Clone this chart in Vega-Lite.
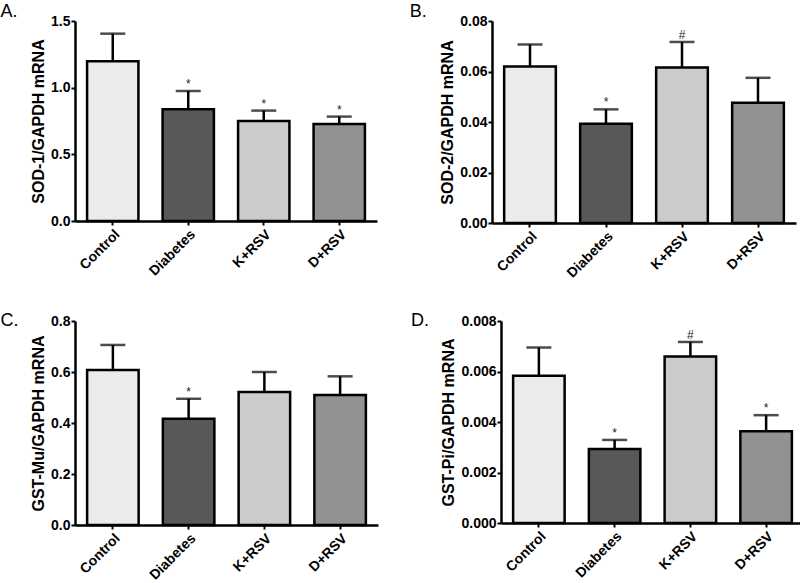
{
  "$schema": "https://vega.github.io/schema/vega-lite/v6.json",
  "padding": {"left": 0, "top": 3, "right": 2, "bottom": 0},
  "background": "white",
  "datasets": {
    "rows": [
      {"panel": "A", "group": "Control", "value": 1.198, "err": 1.405, "sig": ""},
      {"panel": "A", "group": "Diabetes", "value": 0.838, "err": 0.975, "sig": "*"},
      {"panel": "A", "group": "K+RSV", "value": 0.75, "err": 0.828, "sig": "*"},
      {"panel": "A", "group": "D+RSV", "value": 0.728, "err": 0.783, "sig": "*"},
      {"panel": "B", "group": "Control", "value": 0.062, "err": 0.0707, "sig": ""},
      {"panel": "B", "group": "Diabetes", "value": 0.0393, "err": 0.045, "sig": "*"},
      {"panel": "B", "group": "K+RSV", "value": 0.0616, "err": 0.0717, "sig": "#"},
      {"panel": "B", "group": "D+RSV", "value": 0.0476, "err": 0.0575, "sig": ""},
      {"panel": "C", "group": "Control", "value": 0.608, "err": 0.706, "sig": ""},
      {"panel": "C", "group": "Diabetes", "value": 0.417, "err": 0.495, "sig": "*"},
      {"panel": "C", "group": "K+RSV", "value": 0.522, "err": 0.6, "sig": ""},
      {"panel": "C", "group": "D+RSV", "value": 0.51, "err": 0.583, "sig": ""},
      {"panel": "D", "group": "Control", "value": 0.00583, "err": 0.00695, "sig": ""},
      {"panel": "D", "group": "Diabetes", "value": 0.00293, "err": 0.00329, "sig": "*"},
      {"panel": "D", "group": "K+RSV", "value": 0.00659, "err": 0.00717, "sig": "#"},
      {"panel": "D", "group": "D+RSV", "value": 0.00363, "err": 0.00427, "sig": "*"}
    ]
  },
  "config": {
    "font": "Liberation Sans",
    "view": {"stroke": null},
    "axis": {
      "grid": false,
      "domainColor": "black",
      "domainWidth": 2.5,
      "tickColor": "black",
      "tickWidth": 2,
      "tickSize": 4,
      "labelFont": "Liberation Sans",
      "labelFontWeight": "bold",
      "labelFontSize": 14,
      "labelColor": "black",
      "labelPadding": 1,
      "titleFont": "Liberation Sans",
      "titleFontWeight": "bold",
      "titleFontSize": 16,
      "titleColor": "black",
      "titlePadding": 4
    },
    "axisX": {"labelAngle": -45, "labelFontSize": 14, "labelPadding": 2},
    "title": {"fontSize": 18, "fontWeight": "normal", "anchor": "start", "frame": "bounds", "dx": -30, "color": "black", "font": "Liberation Sans"}
  },
  "vconcat": [
    {
      "hconcat": [
        {
          "title": {"text": "A.", "offset": -7},
          "width": 302, "height": 200,
          "data": {"name": "rows"},
          "transform": [{"filter": "datum.panel === 'A'"}],
          "encoding": {"x": {"field": "group", "type": "nominal", "sort": ["Control", "Diabetes", "K+RSV", "D+RSV"], "scale": {"paddingInner": 0.32, "paddingOuter": 0.16}, "axis": {"title": null}}},
          "layer": [
            {"mark": {"type": "bar", "stroke": "black", "strokeWidth": 2.5}, "encoding": {"y": {"field": "value", "type": "quantitative", "scale": {"domain": [0, 1.5], "nice": false}, "axis": {"title": "SOD-1/GAPDH mRNA", "values": [0, 0.5, 1, 1.5], "format": ".1f"}}, "color": {"field": "group", "type": "nominal", "scale": {"domain": ["Control", "Diabetes", "K+RSV", "D+RSV"], "range": ["#ebebeb", "#585858", "#cbcbcb", "#929292"]}, "legend": null}}},
            {"mark": {"type": "rule", "color": "black", "strokeWidth": 2.5}, "encoding": {"y": {"field": "value", "type": "quantitative", "title": "SOD-1/GAPDH mRNA"}, "y2": {"field": "err"}}},
            {"mark": {"type": "tick", "color": "black", "thickness": 2.5, "size": 25}, "encoding": {"y": {"field": "err", "type": "quantitative", "title": "SOD-1/GAPDH mRNA"}}},
            {"mark": {"type": "text", "fontSize": 12, "baseline": "alphabetic", "dy": -3, "color": "#222"}, "encoding": {"y": {"field": "err", "type": "quantitative", "title": "SOD-1/GAPDH mRNA"}, "text": {"field": "sig"}}}
          ]
        },
        {
          "title": {"text": "B.", "offset": -7},
          "width": 304, "height": 202,
          "data": {"name": "rows"},
          "transform": [{"filter": "datum.panel === 'B'"}],
          "encoding": {"x": {"field": "group", "type": "nominal", "sort": ["Control", "Diabetes", "K+RSV", "D+RSV"], "scale": {"paddingInner": 0.32, "paddingOuter": 0.16}, "axis": {"title": null}}},
          "layer": [
            {"mark": {"type": "bar", "stroke": "black", "strokeWidth": 2.5}, "encoding": {"y": {"field": "value", "type": "quantitative", "scale": {"domain": [0, 0.08], "nice": false}, "axis": {"title": "SOD-2/GAPDH mRNA", "values": [0, 0.02, 0.04, 0.06, 0.08], "format": ".2f"}}, "color": {"field": "group", "type": "nominal", "scale": {"domain": ["Control", "Diabetes", "K+RSV", "D+RSV"], "range": ["#ebebeb", "#585858", "#cbcbcb", "#929292"]}, "legend": null}}},
            {"mark": {"type": "rule", "color": "black", "strokeWidth": 2.5}, "encoding": {"y": {"field": "value", "type": "quantitative", "title": "SOD-2/GAPDH mRNA"}, "y2": {"field": "err"}}},
            {"mark": {"type": "tick", "color": "black", "thickness": 2.5, "size": 25}, "encoding": {"y": {"field": "err", "type": "quantitative", "title": "SOD-2/GAPDH mRNA"}}},
            {"mark": {"type": "text", "fontSize": 12, "baseline": "alphabetic", "dy": -3, "color": "#222"}, "encoding": {"y": {"field": "err", "type": "quantitative", "title": "SOD-2/GAPDH mRNA"}, "text": {"field": "sig"}}}
          ]
        }
      ],
      "spacing": 32
    },
    {
      "hconcat": [
        {
          "title": {"text": "C.", "offset": -16},
          "width": 303, "height": 204,
          "data": {"name": "rows"},
          "transform": [{"filter": "datum.panel === 'C'"}],
          "encoding": {"x": {"field": "group", "type": "nominal", "sort": ["Control", "Diabetes", "K+RSV", "D+RSV"], "scale": {"paddingInner": 0.32, "paddingOuter": 0.16}, "axis": {"title": null}}},
          "layer": [
            {"mark": {"type": "bar", "stroke": "black", "strokeWidth": 2.5}, "encoding": {"y": {"field": "value", "type": "quantitative", "scale": {"domain": [0, 0.8], "nice": false}, "axis": {"title": "GST-Mu/GAPDH mRNA", "values": [0, 0.2, 0.4, 0.6, 0.8], "format": ".1f"}}, "color": {"field": "group", "type": "nominal", "scale": {"domain": ["Control", "Diabetes", "K+RSV", "D+RSV"], "range": ["#ebebeb", "#585858", "#cbcbcb", "#929292"]}, "legend": null}}},
            {"mark": {"type": "rule", "color": "black", "strokeWidth": 2.5}, "encoding": {"y": {"field": "value", "type": "quantitative", "title": "GST-Mu/GAPDH mRNA"}, "y2": {"field": "err"}}},
            {"mark": {"type": "tick", "color": "black", "thickness": 2.5, "size": 25}, "encoding": {"y": {"field": "err", "type": "quantitative", "title": "GST-Mu/GAPDH mRNA"}}},
            {"mark": {"type": "text", "fontSize": 12, "baseline": "alphabetic", "dy": -3, "color": "#222"}, "encoding": {"y": {"field": "err", "type": "quantitative", "title": "GST-Mu/GAPDH mRNA"}, "text": {"field": "sig"}}}
          ]
        },
        {
          "title": {"text": "D.", "offset": -16},
          "width": 303, "height": 202,
          "data": {"name": "rows"},
          "transform": [{"filter": "datum.panel === 'D'"}],
          "encoding": {"x": {"field": "group", "type": "nominal", "sort": ["Control", "Diabetes", "K+RSV", "D+RSV"], "scale": {"paddingInner": 0.32, "paddingOuter": 0.16}, "axis": {"title": null}}},
          "layer": [
            {"mark": {"type": "bar", "stroke": "black", "strokeWidth": 2.5}, "encoding": {"y": {"field": "value", "type": "quantitative", "scale": {"domain": [0, 0.008], "nice": false}, "axis": {"title": "GST-Pi/GAPDH mRNA", "values": [0, 0.002, 0.004, 0.006, 0.008], "format": ".3f"}}, "color": {"field": "group", "type": "nominal", "scale": {"domain": ["Control", "Diabetes", "K+RSV", "D+RSV"], "range": ["#ebebeb", "#585858", "#cbcbcb", "#929292"]}, "legend": null}}},
            {"mark": {"type": "rule", "color": "black", "strokeWidth": 2.5}, "encoding": {"y": {"field": "value", "type": "quantitative", "title": "GST-Pi/GAPDH mRNA"}, "y2": {"field": "err"}}},
            {"mark": {"type": "tick", "color": "black", "thickness": 2.5, "size": 25}, "encoding": {"y": {"field": "err", "type": "quantitative", "title": "GST-Pi/GAPDH mRNA"}}},
            {"mark": {"type": "text", "fontSize": 12, "baseline": "alphabetic", "dy": -3, "color": "#222"}, "encoding": {"y": {"field": "err", "type": "quantitative", "title": "GST-Pi/GAPDH mRNA"}, "text": {"field": "sig"}}}
          ]
        }
      ],
      "spacing": 32
    }
  ],
  "spacing": 31
}
